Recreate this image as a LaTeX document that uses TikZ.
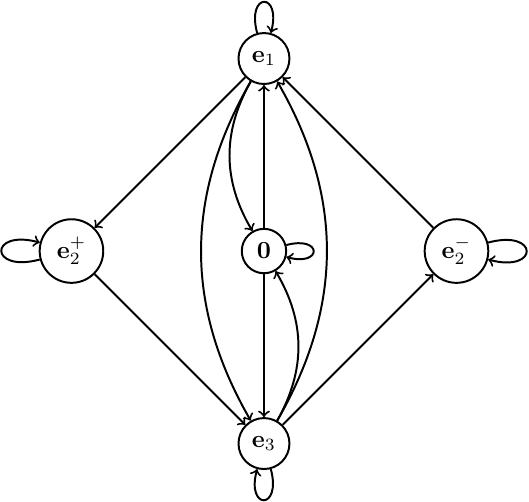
\documentclass[tikz,border=0pt]{standalone}
\usepackage{amsmath}
\usepackage{amssymb}
\usetikzlibrary{positioning,arrows}

\begin{document}
\begin{tikzpicture}[
	vertex/.style={
		circle,
		draw,
		line width=0.8pt
	},
	edge/.style={
		->,
		line width=0.8pt
	},
	node distance=2.75cm,
	on grid
	]
	\useasboundingbox (-3.771,-3.571) rectangle (3.786,3.586);
	
	% Vertices
	\node[vertex] (zero) at (0,0) {$\mathbf{0}$};
	\node[vertex] (e1) [above=of zero] {$\mathbf{e}_1$};
	\node[vertex] (e3) [below=of zero] {$\mathbf{e}_3$};
	\node[vertex] (e2p) [left=of zero] {$\mathbf{e}_2^+$};
	\node[vertex] (e2m) [right=of zero] {$\mathbf{e}_2^-$};
	
	% Outer diamond
	\draw[edge] (e1) -- (e2p);
	\draw[edge] (e2p) -- (e3);
	\draw[edge] (e3) -- (e2m);
	\draw[edge] (e2m) -- (e1);
	
	% Through the middle
	\draw[edge] (zero) -- (e1);
	\draw[edge] (zero) -- (e3);
	\draw[edge] (e1) to[bend right] (zero);
	\draw[edge] (e3) to[bend right] (zero);
	\draw[edge] (e1) to[bend right] (e3);
	\draw[edge] (e3) to[bend right] (e1);
	
	% Loops
	\draw[edge] (e1) to[loop above] (e1);
	\draw[edge] (e3) to[loop below] (e3);
	\draw[edge] (e2p) to[loop left] (e2p);
	\draw[edge] (e2m) to[loop right] (e2m);
	\draw[edge] (zero) to[loop right] (zero);
	
\end{tikzpicture}
\end{document}
